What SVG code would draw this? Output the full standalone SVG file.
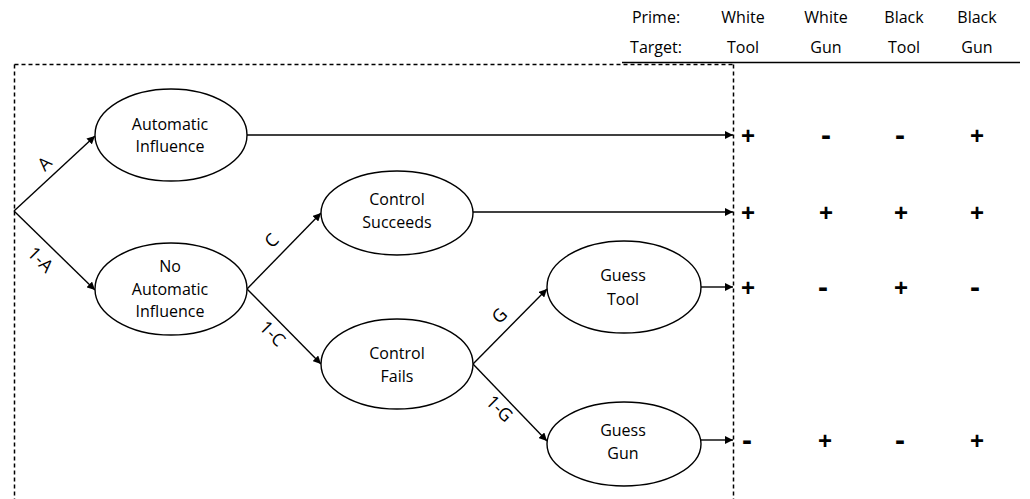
<svg xmlns="http://www.w3.org/2000/svg" width="1030" height="499" viewBox="0 0 1030 499">
<style>
.t{font-family:"Open Sans","Liberation Sans",sans-serif;font-size:16px;fill:#000;text-anchor:middle}
.l{font-family:"Open Sans","Liberation Sans",sans-serif;font-size:18px;fill:#000;text-anchor:middle}
.s{font-family:"Liberation Sans",sans-serif;font-size:24px;font-weight:bold;fill:#000;text-anchor:middle}
.m{font-family:"Liberation Sans",sans-serif;font-size:30px;font-weight:bold;fill:#000;text-anchor:middle}
.e{fill:#fff;stroke:#000;stroke-width:1.4}
.c{stroke:#000;stroke-width:1.4;fill:none}
.d{stroke:#000;stroke-width:1.5;fill:none;stroke-dasharray:4 3}
</style>
<defs>
<marker id="ah" viewBox="0 0 10 10" refX="10" refY="5" markerWidth="8" markerHeight="8" markerUnits="userSpaceOnUse" orient="auto"><path d="M0,0 L10,5 L0,10 z" fill="#000"/></marker>
</defs>
<rect width="1030" height="499" fill="#fff"/>
<g id="frame">
<path class="d" d="M14.5,64.5 H733.5 M14.5,64.5 V499 M733.5,64.5 V499"/>
<path class="c" d="M622,62.5 H1020"/>
</g>
<g id="header">
<text class="t" x="656" y="23">Prime:</text>
<text class="t" x="743" y="23">White</text>
<text class="t" x="826" y="23">White</text>
<text class="t" x="904" y="23">Black</text>
<text class="t" x="977" y="23">Black</text>
<text class="t" x="656" y="53">Target:</text>
<text class="t" x="743" y="53">Tool</text>
<text class="t" x="826" y="53">Gun</text>
<text class="t" x="904" y="53">Tool</text>
<text class="t" x="977" y="53">Gun</text>
</g>
<g id="connectors">
<line class="c" x1="14" y1="211" x2="95" y2="136" marker-end="url(#ah)"/>
<line class="c" x1="14" y1="211" x2="95" y2="290" marker-end="url(#ah)"/>
<line class="c" x1="247" y1="289" x2="321" y2="213" marker-end="url(#ah)"/>
<line class="c" x1="247" y1="289" x2="321" y2="364" marker-end="url(#ah)"/>
<line class="c" x1="473" y1="364" x2="547" y2="289" marker-end="url(#ah)"/>
<line class="c" x1="473" y1="364" x2="547" y2="441" marker-end="url(#ah)"/>
<line class="c" x1="247" y1="135" x2="733" y2="135" marker-end="url(#ah)"/>
<line class="c" x1="473" y1="212" x2="733" y2="212" marker-end="url(#ah)"/>
<line class="c" x1="701" y1="287" x2="733" y2="287" marker-end="url(#ah)"/>
<line class="c" x1="701" y1="440" x2="733" y2="440" marker-end="url(#ah)"/>
<text class="l" transform="translate(49,168) rotate(-45)">A</text>
<text class="l" transform="translate(36,264) rotate(45)">1-A</text>
<text class="l" transform="translate(276,245) rotate(-45)">C</text>
<text class="l" transform="translate(268,338) rotate(45)">1-C</text>
<text class="l" transform="translate(504,320) rotate(-45)">G</text>
<text class="l" transform="translate(495,413) rotate(45)">1-G</text>
</g>
<g id="automatic-influence">
<ellipse class="e" cx="171" cy="135" rx="76" ry="46"/>
<text class="t" x="170" y="130">Automatic</text>
<text class="t" x="170" y="152">Influence</text>
</g>
<g id="no-automatic-influence">
<ellipse class="e" cx="171" cy="289" rx="76" ry="46"/>
<text class="t" x="170" y="272">No</text>
<text class="t" x="170" y="295">Automatic</text>
<text class="t" x="170" y="317">Influence</text>
</g>
<g id="control-succeeds">
<ellipse class="e" cx="397" cy="213" rx="76" ry="42"/>
<text class="t" x="397" y="205">Control</text>
<text class="t" x="397" y="228">Succeeds</text>
</g>
<g id="control-fails">
<ellipse class="e" cx="397" cy="364" rx="76" ry="45"/>
<text class="t" x="397" y="359">Control</text>
<text class="t" x="397" y="382">Fails</text>
</g>
<g id="guess-tool">
<ellipse class="e" cx="624" cy="287" rx="77" ry="46"/>
<text class="t" x="623" y="281">Guess</text>
<text class="t" x="623" y="305">Tool</text>
</g>
<g id="guess-gun">
<ellipse class="e" cx="624" cy="444" rx="77" ry="42"/>
<text class="t" x="623" y="436">Guess</text>
<text class="t" x="623" y="459">Gun</text>
</g>
<g id="outcomes">
<text class="s" x="748" y="144">+</text>
<text class="m" x="826" y="145">-</text>
<text class="m" x="900" y="145">-</text>
<text class="s" x="977" y="144">+</text>
<text class="s" x="748" y="221">+</text>
<text class="s" x="826" y="221">+</text>
<text class="s" x="901" y="221">+</text>
<text class="s" x="977" y="221">+</text>
<text class="s" x="748" y="296">+</text>
<text class="m" x="823" y="297">-</text>
<text class="s" x="901" y="296">+</text>
<text class="m" x="975" y="297">-</text>
<text class="m" x="747" y="450">-</text>
<text class="s" x="825" y="449">+</text>
<text class="m" x="900" y="450">-</text>
<text class="s" x="977" y="449">+</text>
</g>
</svg>
